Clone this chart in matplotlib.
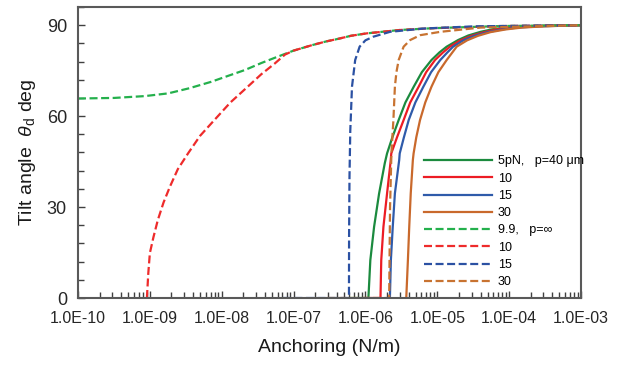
import numpy as np
import matplotlib
matplotlib.use("Agg")
import matplotlib.pyplot as plt
from matplotlib.ticker import MultipleLocator, LogLocator, FixedLocator, FixedFormatter

plt.rcParams['font.family'] = ['Liberation Sans', 'DejaVu Sans']
plt.rcParams['mathtext.fontset'] = 'custom'
plt.rcParams['mathtext.rm'] = 'Liberation Sans'
plt.rcParams['mathtext.it'] = 'Liberation Sans:italic'

# anchoring (N/m) and tilt angle (deg)
# solid lines: p = 40 um
green_x = [6.3e-7, 1.10e-6, 1.17e-6, 1.32e-6, 1.55e-6, 1.86e-6, 2.0e-6, 2.37e-6, 2.9e-6, 3.6e-6, 4.7e-6,
           6.1e-6, 8.3e-6, 1.07e-5, 1.35e-5, 1.95e-5, 2.7e-5, 4e-5, 6e-5, 1e-4, 2e-4, 5e-4, 1e-3]
green_y = [0, 0, 12.5, 23.5, 34.5, 44.5, 47.7, 53, 58.7, 64.5, 69.7,
           74.5, 78.5, 81, 82.9, 85.1, 86.6, 87.8, 88.7, 89.3, 89.7, 89.9, 90]
red_x = [1.0e-6, 1.62e-6, 1.66e-6, 1.78e-6, 2.0e-6, 2.24e-6, 2.29e-6, 2.75e-6, 3.4e-6, 4.2e-6, 5.5e-6,
         7.0e-6, 9.3e-6, 1.2e-5, 1.5e-5, 2.1e-5, 3e-5, 4.5e-5, 7e-5, 1.2e-4, 2.5e-4, 1e-3]
red_y = [0, 0, 12.5, 23.5, 34.5, 45.0, 47.7, 53, 58.7, 64.5, 69.7,
         74.5, 78.5, 81, 82.9, 85.0, 86.5, 87.7, 88.7, 89.3, 89.7, 90]
blue_x = [2.19e-6, 2.26e-6, 2.4e-6, 2.57e-6, 2.95e-6, 3.0e-6, 3.43e-6, 4.0e-6, 4.95e-6, 6.4e-6,
          8.2e-6, 1.1e-5, 1.38e-5, 1.66e-5, 2.3e-5, 3.3e-5, 5e-5, 8e-5, 1.3e-4, 2.5e-4, 1e-3]
blue_y = [0, 12.5, 23.5, 34.5, 45.5, 47.7, 53, 58.7, 64.5, 69.7,
          74.5, 78.5, 81, 82.9, 85.0, 86.5, 87.7, 88.6, 89.2, 89.6, 90]
orange_x = [3.7e-6, 3.9e-6, 4.07e-6, 4.27e-6, 4.57e-6, 4.68e-6, 5.1e-6, 5.75e-6, 6.8e-6, 8.3e-6,
            1.035e-5, 1.35e-5, 1.62e-5, 1.86e-5, 2.6e-5, 3.7e-5, 5.5e-5, 9e-5, 1.5e-4, 3e-4, 1e-3]
orange_y = [0, 12.5, 23.5, 34.5, 45.5, 47.7, 53, 58.7, 64.5, 69.7,
            74.5, 78.5, 81, 82.9, 85.0, 86.5, 87.7, 88.6, 89.2, 89.6, 90]

# dashed lines: p = infinity
dgreen_x = [1e-10, 3.2e-10, 8.5e-10, 1.8e-9, 3.55e-9, 7.1e-9, 1.2e-8, 2.1e-8, 3.55e-8, 6.0e-8, 1e-7,
            1.8e-7, 2.8e-7, 4.2e-7, 6.3e-7, 1.05e-6, 3.0e-6, 8.7e-6, 7.4e-5, 1e-3]
dgreen_y = [65.8, 66.0, 66.6, 67.5, 69.2, 71.3, 73.2, 75.2, 77.5, 79.6, 81.6,
            83.4, 84.6, 85.5, 86.5, 87.3, 88.4, 89.0, 89.7, 90]
dred_x = [9.1e-10, 9.5e-10, 1.0e-9, 1.12e-9, 1.29e-9, 1.55e-9, 1.9e-9, 2.45e-9, 3.4e-9, 5.0e-9, 7.9e-9,
          1.32e-8, 2.3e-8, 3.55e-8, 5.5e-8, 7.6e-8, 1e-7, 1.8e-7, 2.8e-7, 4.2e-7, 6.3e-7, 1.05e-6,
          3.0e-6, 8.7e-6, 7.4e-5, 1e-3]
dred_y = [0, 8, 14.8, 20, 25.7, 31.5, 36.7, 42.5, 47.7, 53.5, 58.7,
          64.5, 69.7, 73.8, 77.4, 80.3, 81.6, 83.4, 84.6, 85.5, 86.5, 87.3,
          88.4, 89.0, 89.7, 90]
dblue_x = [7.1e-8, 5.9e-7, 5.92e-7, 6.0e-7, 6.15e-7, 6.5e-7, 7.2e-7, 8.3e-7, 1.0e-6, 1.29e-6, 2.2e-6,
           6.5e-6, 3.2e-5, 1e-3]
dblue_y = [0, 0, 20, 40, 55, 69.7, 78.5, 82.9, 85.0, 86.2, 87.8, 88.9, 89.6, 90]
dorange_x = [2.9e-7, 2.14e-6, 2.2e-6, 2.3e-6, 2.45e-6, 2.57e-6, 2.7e-6, 2.9e-6, 3.4e-6, 4.2e-6, 5.8e-6,
             1.1e-5, 4e-5, 1e-3]
dorange_y = [0, 0, 30, 47.8, 58.7, 69.7, 74.5, 78.5, 82.9, 85.1, 86.7, 87.8, 89.2, 90]

labels = ["5pN,   p=40 \u03bcm", "10", "15", "30", "9.9,   p=\u221e", "10", "15", "30"]
xtick_vals = [1e-10, 1e-9, 1e-8, 1e-7, 1e-6, 1e-5, 1e-4, 1e-3]
xtick_labels = ["1.0E-10", "1.0E-09", "1.0E-08", "1.0E-07", "1.0E-06", "1.0E-05", "1.0E-04", "1.0E-03"]

fig = plt.figure(figsize=(6.22, 3.67), dpi=100)
ax = fig.add_axes([0.1254, 0.188, 0.8087, 0.793])

lw = 1.6
dash = (0, (3.6, 1.6))
ax.plot(green_x, green_y, color='#1B8A3E', lw=lw, label=labels[0])
ax.plot(red_x, red_y, color='#EC1C24', lw=lw, label=labels[1])
ax.plot(blue_x, blue_y, color='#2F5BAA', lw=lw, label=labels[2])
ax.plot(orange_x, orange_y, color='#C9692C', lw=lw, label=labels[3])
ax.plot(dgreen_x, dgreen_y, color='#24B04C', lw=lw, ls=dash, label=labels[4])
ax.plot(dred_x, dred_y, color='#EE2B2B', lw=lw, ls=dash, label=labels[5])
ax.plot(dblue_x, dblue_y, color='#2B51A3', lw=lw, ls=dash, label=labels[6])
ax.plot(dorange_x, dorange_y, color='#C87331', lw=lw, ls=dash, label=labels[7])

ax.set_xscale('log')
ax.set_xlim(1e-10, 1e-3)
ax.set_ylim(0, 96)
ax.xaxis.set_major_locator(FixedLocator(xtick_vals))
ax.xaxis.set_major_formatter(FixedFormatter(xtick_labels))
ax.xaxis.set_minor_locator(LogLocator(base=10, subs=np.arange(2, 10), numticks=20))
ax.set_yticks([0, 30, 60, 90])
ax.yaxis.set_minor_locator(MultipleLocator(6))

for s in ax.spines.values():
    s.set_color('#595959')
    s.set_linewidth(1.5)
ax.tick_params(axis='both', which='both', direction='in', color='#404040', width=1.0)
ax.tick_params(axis='both', which='major', length=5)
ax.tick_params(axis='both', which='minor', length=4)
ax.tick_params(axis='x', which='major', labelsize=11.5, pad=9, labelcolor='#262626')
ax.tick_params(axis='y', which='major', labelsize=13, pad=8, labelcolor='#262626')

ax.set_xlabel("Anchoring (N/m)", fontsize=14, labelpad=10, color='#1a1a1a')
ax.set_ylabel(r"Tilt angle  $\mathit{\theta}_{\mathrm{d}}$ deg", fontsize=14, labelpad=6, color='#1a1a1a')

ax.legend(loc='upper left', bbox_to_anchor=(0.688, 0.49), frameon=False, fontsize=9,
          handlelength=5.4, handletextpad=0.5, labelspacing=0.42, borderpad=0, borderaxespad=0)

fig.savefig("out.png", dpi=100)
